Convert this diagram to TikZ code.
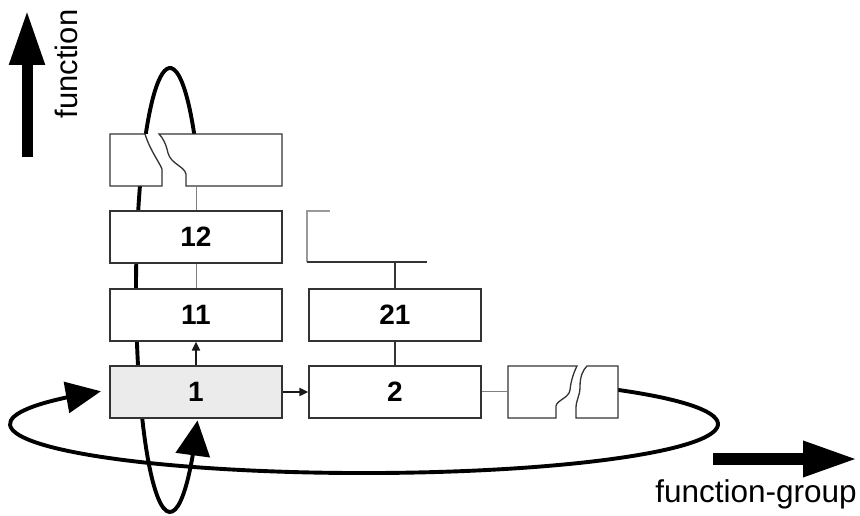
\documentclass[tikz,border=0pt]{standalone}
\usepackage{fontspec}
\setmainfont{Liberation Sans}
\usetikzlibrary{arrows.meta,bending}
\begin{document}
\begin{tikzpicture}[x=1pt,y=1pt,
  box/.style={draw={black!80},line width=1.3pt,fill=white,minimum width=172pt,minimum height=52pt,inner sep=0pt,font=\fontsize{28}{28}\selectfont\bfseries},
  frame/.style={color={black!80},line width=1.3pt},
  ring/.style={line width=3.9pt},
  link/.style={color={black!50},line width=1pt},
  feed/.style={color={black!90},line width=2pt,-{Triangle[length=9pt,width=8pt]}},
  axis/.style={-{Triangle[length=55pt,width=33pt]}}]
\useasboundingbox (0,0) rectangle (860,516);
% the two loops first, the boxes hide them
\draw[ring,-{Triangle[length=35pt,width=31pt]}] (609.9,127.2) arc[start angle=46,end angle=-222,x radius=354,y radius=49];
\draw[ring,{Triangle[length=35pt,width=34pt]}-] (197.5,95.5) arc[start angle=-36,end angle=-318,x radius=34,y radius=222];
% boxes
\node[box,draw=none] (b1n) at (196,356) {};
\node[box] (b12) at (196,279) {12};
\node[box] (b11) at (196,201) {11};
\node[box,fill={black!8}] (b1) at (196,124) {1};
\node[box] (b21) at (395,201) {21};
\node[box] (b2) at (395,124) {2};
\node[box,draw=none,minimum width=110pt] (bn) at (563,124) {};
% broken boxes
\draw[frame] (162,330) -- (162,347) .. controls (158,356) and (150,366) .. (145,382) -- (110,382) -- (110,330) -- cycle;
\draw[frame] (186,330) -- (186,342) .. controls (184,350) and (171,352) .. (168,363) .. controls (166,372) and (163,378) .. (159,382) -- (282,382) -- (282,330) -- cycle;
\draw[frame] (556,98) -- (556,110) .. controls (557,116) and (569,118) .. (570,126) .. controls (571,136) and (574,144) .. (577,150) -- (508,150) -- (508,98) -- cycle;
\draw[frame] (576,98) -- (576,108) .. controls (576,116) and (580,120) .. (580,129) .. controls (580,140) and (583,146) .. (587,150) -- (618,150) -- (618,98) -- cycle;
\draw[color={black!40},line width=1.3pt] (330,305) -- (307,305) -- (307,254);
\draw[frame] (307,254) -- (427,254);
\coordinate (b2n) at (395,254);
% connectors
\draw[link] (b1n) -- (b12);
\draw[link] (b12) -- (b11);
\draw[feed] (b1) -- (b11);
\draw[feed] (b1) -- (b2);
\draw[frame] (b2n) -- (b21);
\draw[frame] (b21) -- (b2);
\draw[link] (b2) -- (bn);
% axes
\coordinate (fa) at (27,359);
\coordinate (fb) at (27,506);
\draw[axis,line width=11pt] (fa) -- (fb);
\node[rotate=90,anchor=base,font=\fontsize{31}{31}\selectfont] (fn) at (77,452) {function};
\coordinate (ga) at (713,57);
\coordinate (gb) at (858,57);
\draw[axis,line width=12pt] (ga) -- (gb);
\node[anchor=base,font=\fontsize{31.5}{31.5}\selectfont] (gn) at (756,13) {function-group};
\end{tikzpicture}
\end{document}
